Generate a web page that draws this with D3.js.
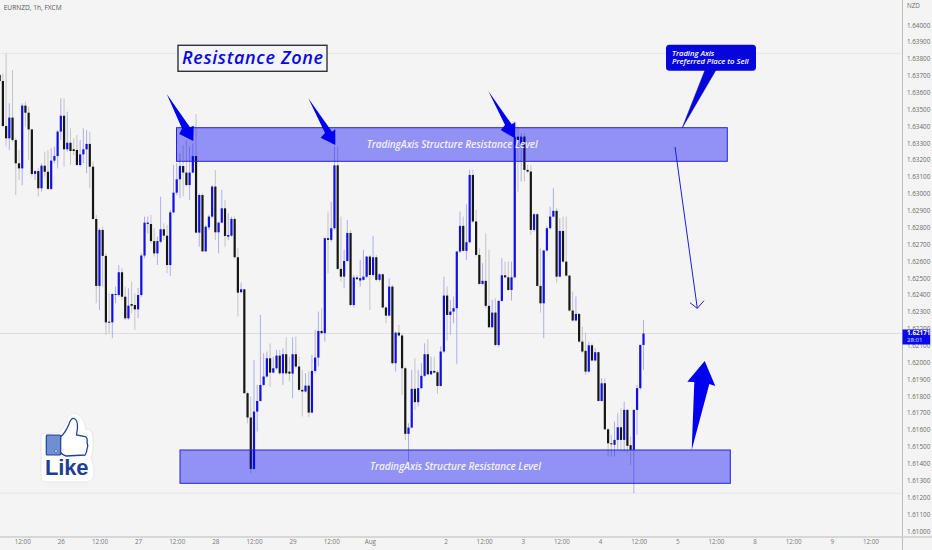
<!DOCTYPE html>
<html><head><meta charset="utf-8">
<script src="https://cdnjs.cloudflare.com/ajax/libs/d3/7.8.5/d3.min.js"></script>
<style>html,body{margin:0;padding:0;background:#f4f4f4;overflow:hidden}svg{display:block}</style>
</head><body><svg id="c" width="932" height="550"></svg>
<script>
const symbolTitle = "EURNZD, 1h, FXCM";
const currency = "NZD";
const opens = [1.63704,1.63668,1.63401,1.63328,1.63451,1.63318,1.63180,1.63150,1.63522,1.63480,
1.63381,1.63117,1.63134,1.63032,1.63166,1.63130,1.63028,1.63196,1.63223,1.63368,
1.63462,1.63263,1.63302,1.63263,1.63259,1.63170,1.63233,1.63263,1.63295,1.63160,
1.62850,1.62453,1.62785,1.62631,1.62241,1.62237,1.62399,1.62399,1.62534,1.62389,
1.62261,1.62346,1.62340,1.62314,1.62399,1.62633,1.62820,1.62820,1.62719,1.62646,
1.62715,1.62789,1.62751,1.62577,1.62889,1.63006,1.63085,1.63164,1.63125,1.63051,
1.63125,1.63223,1.62769,1.62992,1.62658,1.62800,1.62864,1.63042,1.62771,1.62828,
1.62913,1.62745,1.62751,1.62850,1.62623,1.62416,1.62433,1.61817,1.61673,1.61368,
1.61708,1.61771,1.61866,1.61916,1.62024,1.61939,1.61965,1.62040,1.61935,1.62048,
1.61945,1.61933,1.62048,1.61975,1.61837,1.61827,1.61862,1.61702,1.61949,1.62028,
1.62186,1.62173,1.62736,1.62726,1.62795,1.63168,1.62554,1.62508,1.62601,1.62767,
1.62340,1.62503,1.62485,1.62489,1.62508,1.62627,1.62518,1.62623,1.62489,1.62522,
1.62325,1.62277,1.62449,1.61995,1.62176,1.62159,1.61965,1.61576,1.61613,1.61843,
1.61764,1.61847,1.61920,1.62048,1.61929,1.61949,1.61941,1.61860,1.62064,1.62396,
1.62281,1.62301,1.62321,1.62657,1.62809,1.62661,1.62712,1.63111,1.62835,1.62637,
1.62465,1.62483,1.62335,1.62208,1.62295,1.62103,1.62364,1.62516,1.62504,1.62429,
1.62504,1.63338,1.63280,1.63338,1.63141,1.63131,1.62785,1.62878,1.62453,1.62350,
1.62663,1.62795,1.62864,1.62898,1.62508,1.62779,1.62597,1.62514,1.62307,1.62248,
1.62287,1.62123,1.62068,1.61945,1.62101,1.62011,1.62060,1.61771,1.61876,1.61603,
1.61520,1.61511,1.61540,1.61615,1.61540,1.61718,1.61509,1.61481,1.61718,1.61847,
1.62103];
const highs = [1.63713,1.63713,1.63832,1.63536,1.63733,1.63330,1.63259,1.63536,1.63545,1.63516,
1.63385,1.63140,1.63150,1.63180,1.63249,1.63259,1.63269,1.63279,1.63377,1.63565,
1.63565,1.63486,1.63387,1.63328,1.63348,1.63318,1.63387,1.63377,1.63368,1.63190,
1.62874,1.62795,1.62804,1.62646,1.62409,1.62409,1.62449,1.62577,1.62557,1.62449,
1.62439,1.62478,1.62409,1.62439,1.62646,1.62864,1.62864,1.62874,1.62795,1.62745,
1.62982,1.62824,1.62814,1.62903,1.63170,1.63180,1.63239,1.63289,1.63318,1.63279,
1.63298,1.63472,1.63002,1.63002,1.62814,1.62874,1.63051,1.63140,1.62834,1.63022,
1.62963,1.62883,1.62864,1.62864,1.62676,1.62473,1.62435,1.61827,1.61797,1.62014,
1.61866,1.62281,1.62054,1.62064,1.62113,1.62034,1.62074,1.62074,1.62084,1.62149,
1.62034,1.62149,1.62153,1.62034,1.61955,1.61935,1.61945,1.62044,1.62192,1.62301,
1.62321,1.62740,1.62894,1.62953,1.63279,1.63279,1.62864,1.62667,1.62844,1.62785,
1.62518,1.62518,1.62607,1.62667,1.62631,1.62637,1.62750,1.62637,1.62528,1.62528,
1.62331,1.62499,1.62459,1.62182,1.62222,1.62172,1.61975,1.61639,1.61955,1.62024,
1.61955,1.61995,1.62113,1.62137,1.62034,1.62034,1.61955,1.62094,1.62508,1.62449,
1.62370,1.62390,1.62660,1.62894,1.62864,1.62937,1.63141,1.63141,1.62904,1.62676,
1.62588,1.62765,1.62667,1.62370,1.62380,1.62370,1.62617,1.62597,1.62597,1.62597,
1.63427,1.63398,1.63358,1.63358,1.63170,1.63170,1.62884,1.62884,1.62676,1.62667,
1.62805,1.62923,1.63032,1.62914,1.62854,1.62864,1.62864,1.62518,1.62420,1.62390,
1.62291,1.62212,1.62176,1.62123,1.62113,1.62084,1.62064,1.61906,1.61906,1.61609,
1.61570,1.61649,1.61698,1.61728,1.61767,1.61722,1.61560,1.61722,1.61866,1.62107,
1.62252];
const lows = [1.63654,1.63393,1.63279,1.63259,1.63308,1.62992,1.63081,1.63051,1.63397,1.63200,
1.63101,1.63081,1.62982,1.63012,1.63101,1.63022,1.63022,1.63180,1.63150,1.63318,
1.63160,1.63249,1.63170,1.63229,1.63165,1.63160,1.63180,1.63121,1.63032,1.62844,
1.62350,1.62310,1.62449,1.62162,1.62172,1.62143,1.62350,1.62389,1.62370,1.62251,
1.62251,1.62291,1.62192,1.62261,1.62389,1.62617,1.62765,1.62706,1.62627,1.62577,
1.62706,1.62725,1.62528,1.62512,1.62883,1.62992,1.62972,1.62982,1.63042,1.62963,
1.63121,1.62765,1.62686,1.62656,1.62656,1.62785,1.62854,1.62725,1.62646,1.62824,
1.62686,1.62725,1.62745,1.62617,1.62271,1.62410,1.61813,1.61639,1.61343,1.61362,
1.61590,1.61767,1.61856,1.61910,1.61856,1.61935,1.61955,1.61926,1.61866,1.61926,
1.61886,1.61787,1.61965,1.61827,1.61679,1.61821,1.61675,1.61698,1.61935,1.61975,
1.62163,1.62123,1.62528,1.62716,1.62785,1.62548,1.62479,1.62439,1.62597,1.62331,
1.62327,1.62489,1.62449,1.62485,1.62499,1.62311,1.62508,1.62479,1.62479,1.62321,
1.62232,1.62271,1.61985,1.61945,1.62153,1.61807,1.61540,1.61412,1.61609,1.61718,
1.61738,1.61841,1.61914,1.61924,1.61925,1.61935,1.61813,1.61856,1.62054,1.62129,
1.62163,1.62232,1.61991,1.62647,1.62657,1.62607,1.62706,1.62825,1.62627,1.62459,
1.62459,1.62321,1.62202,1.62202,1.62094,1.62090,1.62360,1.62499,1.62423,1.62366,
1.62499,1.63012,1.63072,1.63072,1.63121,1.62755,1.62775,1.62449,1.62295,1.62143,
1.62657,1.62789,1.62860,1.62473,1.62504,1.62588,1.62508,1.62301,1.62242,1.62242,
1.62117,1.62054,1.61926,1.61939,1.62005,1.62005,1.61767,1.61767,1.61599,1.61441,
1.61441,1.61441,1.61481,1.61471,1.61471,1.61461,1.61392,1.61224,1.61570,1.61837,
1.61955];
const closes = [1.63668,1.63401,1.63328,1.63451,1.63318,1.63180,1.63150,1.63522,1.63480,1.63381,
1.63117,1.63134,1.63032,1.63166,1.63130,1.63028,1.63196,1.63223,1.63368,1.63462,
1.63263,1.63302,1.63253,1.63253,1.63170,1.63233,1.63263,1.63295,1.63160,1.62850,
1.62453,1.62785,1.62631,1.62237,1.62235,1.62405,1.62405,1.62534,1.62389,1.62261,
1.62336,1.62336,1.62314,1.62399,1.62633,1.62828,1.62828,1.62719,1.62646,1.62719,
1.62789,1.62751,1.62577,1.62889,1.63006,1.63085,1.63164,1.63125,1.63051,1.63125,
1.63223,1.62769,1.62992,1.62658,1.62804,1.62864,1.63042,1.62771,1.62828,1.62913,
1.62749,1.62755,1.62850,1.62623,1.62413,1.62433,1.61817,1.61673,1.61368,1.61708,
1.61771,1.61866,1.61916,1.62024,1.61939,1.61965,1.62040,1.61935,1.62048,1.61935,
1.61933,1.62048,1.61975,1.61837,1.61827,1.61862,1.61702,1.61949,1.62028,1.62186,
1.62173,1.62736,1.62726,1.62795,1.63168,1.62554,1.62508,1.62601,1.62767,1.62340,
1.62503,1.62493,1.62499,1.62508,1.62627,1.62518,1.62623,1.62489,1.62522,1.62325,
1.62277,1.62449,1.61995,1.62176,1.62159,1.61965,1.61576,1.61613,1.61843,1.61764,
1.61847,1.61920,1.62048,1.61929,1.61949,1.61939,1.61860,1.62064,1.62396,1.62281,
1.62301,1.62321,1.62657,1.62809,1.62661,1.62712,1.63111,1.62835,1.62637,1.62465,
1.62483,1.62335,1.62208,1.62295,1.62103,1.62364,1.62516,1.62504,1.62429,1.62504,
1.63338,1.63318,1.63338,1.63141,1.63131,1.62785,1.62878,1.62453,1.62350,1.62663,
1.62795,1.62864,1.62898,1.62508,1.62779,1.62597,1.62514,1.62307,1.62248,1.62287,
1.62123,1.62064,1.61945,1.62101,1.62011,1.62060,1.61771,1.61876,1.61603,1.61520,
1.61515,1.61540,1.61615,1.61540,1.61718,1.61505,1.61481,1.61718,1.61847,1.62103,
1.62171];
const priceTicks = [1.61,1.611,1.612,1.613,1.614,1.615,1.616,1.617,1.618,1.619,1.62,1.621,1.622,1.623,1.624,1.625,1.626,1.627,1.628,1.629,1.63,1.631,1.632,1.633,1.634,1.635,1.636,1.637,1.638,1.639,1.64];
const timeTickBars = [7,19,31,43,55,67,79,91,103,115,138.5,150.5,162.5,174.5,186.5,198.5,210.5,222.5,234.5,246.5,258.5,270.5];
const timeTickLabels = ["12:00","26","12:00","27","12:00","28","12:00","29","12:00","Aug","2","12:00","3","12:00","4","12:00","5","12:00","8","12:00","9","12:00"];
const lastCountdown = "28:01";

const svg = d3.select("#c");
const W = 932, H = 550, axisX = 902.5, axisY = 537;
const x = d3.scaleLinear().domain([0,200]).range([-0.33,643.5]);
const y = d3.scaleLinear().domain([1.61,1.64]).range([531,25]);
const BLUE="#1010e4", BLACK="#161616";
const sans = "'Open Sans','Noto Sans',sans-serif";

svg.append("rect").attr("width",W).attr("height",H).attr("fill","#f4f4f4");

// High, low and last-price lines
const last = closes[closes.length-1];
svg.selectAll("line.ref").data([d3.max(highs),d3.min(lows)]).join("line").attr("class","ref")
  .attr("x1",0).attr("x2",axisX).attr("y1",d=>y(d)).attr("y2",d=>y(d)).attr("stroke","#e6e6e6").attr("stroke-width",1);
svg.append("line").attr("x1",0).attr("x2",axisX).attr("y1",y(last)).attr("y2",y(last)).attr("stroke","#dcdce4").attr("stroke-width",1);

// Candles
const idx = d3.range(closes.length);
const g = svg.append("g");
g.selectAll("line.w").data(idx).join("line").attr("class","w")
  .attr("x1",i=>x(i)).attr("x2",i=>x(i)).attr("y1",i=>y(highs[i])).attr("y2",i=>y(lows[i]))
  .attr("stroke",i=>closes[i]>=opens[i]?"#9c9cec":"#b8b8b8").attr("stroke-width",0.8);
g.selectAll("rect.b").data(idx).join("rect").attr("class","b")
  .attr("x",i=>x(i)-1.1).attr("width",2.2)
  .attr("y",i=>y(Math.max(opens[i],closes[i])))
  .attr("height",i=>Math.max(1,Math.abs(y(opens[i])-y(closes[i]))))
  .attr("fill",i=>closes[i]>=opens[i]?BLUE:BLACK);

// Zones
const zones=[{x0:176.5,x1:727.3,y0:127.7,y1:161.3,tx:366.7,ty:147.8},{x0:180,x1:730.3,y0:450,y1:483.3,tx:370,ty:469.6}];
zones.forEach(z=>{
  svg.append("rect").attr("x",z.x0).attr("y",z.y0).attr("width",z.x1-z.x0).attr("height",z.y1-z.y0)
    .attr("fill","rgba(0,0,245,0.40)").attr("stroke","#2424dc").attr("stroke-width",1);
  svg.append("text").attr("x",z.tx).attr("y",z.ty).text("TradingAxis Structure Resistance Level")
    .attr("font-family",sans).attr("font-style","italic").attr("font-weight",600).attr("font-size",10)
    .attr("textLength",171).attr("lengthAdjust","spacing").attr("fill","#f0f0ff");
});

// Annotation arrows
const ARW="#0000f0";
[[[166.7,94],[190,127.3],[193.7,125.7],[193.3,141],[179.3,134],[182,128.5]],
 [[308.3,98.3],[332,131.7],[335.3,129.3],[335.3,145],[320.7,137.7],[325,133]],
 [[488.3,91],[511.7,124.3],[515.3,122.3],[515,138.3],[500.7,130],[505,125]],
 [[704.7,361],[715.3,386],[709.3,384],[691.7,450],[694.3,382],[687.3,381.7]]
].forEach(p=>svg.append("polygon").attr("points",p.join(" ")).attr("fill",ARW));

const thin=svg.append("g").attr("fill","none").attr("stroke","#1c1ce0").attr("stroke-width",1);
thin.append("path").attr("d","M675,147L697.3,308.3");
thin.append("path").attr("d","M690,302.7L697.3,308.3L704,300.7");

// Callout
svg.append("polygon").attr("points","705,70 716,70 682.3,127.7").attr("fill","#0606dc").attr("stroke","#0606a0").attr("stroke-width",0.5);
svg.append("rect").attr("x",666).attr("y",44.7).attr("width",90).attr("height",26).attr("rx",3.5).attr("fill","#0606dc");
[["Trading Axis",56],["Preferred Place to Sell",63.6]].forEach(([t,yy])=>
  svg.append("text").attr("x",672).attr("y",yy).text(t).attr("font-family",sans).attr("font-style","italic")
   .attr("font-weight",600).attr("font-size",7.6).attr("fill","#fff"));

// Title box
svg.append("rect").attr("x",178).attr("y",45.3).attr("width",149).attr("height",26).attr("fill","#f4f4fb").attr("stroke","#333").attr("stroke-width",1.4);
svg.append("text").attr("x",182).attr("y",64).text("Resistance Zone").attr("font-family",sans).attr("font-style","italic")
  .attr("font-weight",600).attr("font-size",18).attr("textLength",141).attr("fill","#0808e0");

// Like sticker
const like=svg.append("g");
like.append("path").attr("d","M45,434 Q41,432 41,438 L41,478 Q42,482 48,482 L88,482 Q95,480 94,470 Q93,462 91,458 Q95,445 92,432 Q88,428 86,430 Q84,415 74,413 Q68,414 66,424 L60,432 Z")
  .attr("fill","#fff").attr("stroke","#e2e2e2").attr("stroke-width",0.8);
like.append("path").attr("d","M60.5,437 Q66,432 69,424 Q71,418 74,418.5 Q78,420 77.5,428 L76.5,435 L85,436.5 Q88,438 87,442 Q88.5,446 87,449 Q87,452 85,455 L66,456 Q63,455.5 60,452 Z")
  .attr("fill","#fff").attr("stroke","#1f4298").attr("stroke-width",1.3);
like.append("rect").attr("x",46.3).attr("y",435).attr("width",14.4).attr("height",20).attr("rx",1).attr("fill","#6f8fd2").attr("stroke","#1f4298").attr("stroke-width",1.2);
like.append("circle").attr("cx",56).attr("cy",451).attr("r",1.4).attr("fill","#fff").attr("stroke","#1f4298").attr("stroke-width",0.7);
like.append("text").attr("x",45).attr("y",475).text("Like").attr("font-family","'Liberation Sans',sans-serif").attr("font-weight",700)
  .attr("font-size",22).attr("textLength",43.5).attr("fill","#1e3f94");

// Axes frame
svg.append("line").attr("x1",axisX).attr("x2",axisX).attr("y1",0).attr("y2",H).attr("stroke","#bdbdbd").attr("stroke-width",1);
svg.append("line").attr("x1",0).attr("x2",W).attr("y1",axisY).attr("y2",axisY).attr("stroke","#cecece").attr("stroke-width",1.6);

const yAxis=d3.axisRight(y).tickValues(priceTicks).tickFormat(d3.format(".5f")).tickSize(0).tickPadding(0);
const ya=svg.append("g").attr("transform",`translate(907,0)`).call(yAxis);
ya.select(".domain").remove();
ya.selectAll("text").attr("font-family",sans).attr("font-size",6.3).attr("fill","#6a6a6a");

const xAxis=d3.axisBottom(x).tickValues(timeTickBars).tickFormat((d,i)=>timeTickLabels[i]).tickSize(0).tickPadding(0);
const xa=svg.append("g").attr("transform",`translate(0,539.5)`).call(xAxis);
xa.select(".domain").remove();
xa.selectAll("text").attr("font-family",sans).attr("font-size",6.3).attr("fill","#777").attr("dy","0.71em");

// Text labels
svg.append("text").attr("x",3.7).attr("y",10).text(symbolTitle).attr("font-family",sans).attr("font-size",6.6).attr("fill","#555");
svg.append("text").attr("x",907).attr("y",8).text(currency).attr("font-family",sans).attr("font-size",6.3).attr("fill","#6a6a6a");

// Last price tag
const ly=y(last);
svg.append("rect").attr("x",axisX).attr("y",ly-4).attr("width",27.7).attr("height",15).attr("fill","#0808e8");
svg.append("text").attr("x",907).attr("y",ly+2).text(d3.format(".5f")(last)).attr("font-family",sans).attr("font-size",6.3).attr("font-weight",700).attr("fill","#fff");
svg.append("text").attr("x",907).attr("y",ly+9).text(lastCountdown).attr("font-family",sans).attr("font-size",6.1).attr("fill","#dfe0ff");
</script></body></html>
